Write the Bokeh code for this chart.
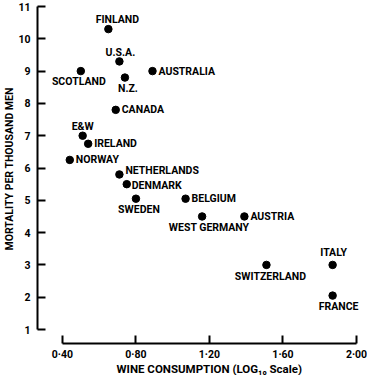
from bokeh.plotting import figure
from bokeh.models import ColumnDataSource, FixedTicker, Range1d, Title
from bokeh.core.properties import value
from bokeh.embed import file_html
from bokeh.resources import INLINE

# ---- data ----
countries = ["FINLAND", "U.S.A.", "SCOTLAND", "AUSTRALIA", "N.Z.", "CANADA",
             "E&W", "IRELAND", "NORWAY", "NETHERLANDS", "DENMARK", "SWEDEN",
             "BELGIUM", "WEST GERMANY", "AUSTRIA", "SWITZERLAND", "ITALY", "FRANCE"]
wine_log = [0.65, 0.71, 0.50, 0.89, 0.74, 0.69,
            0.51, 0.54, 0.44, 0.71, 0.75, 0.80,
            1.07, 1.16, 1.39, 1.51, 1.87, 1.87]
mortality = [10.3, 9.3, 9.0, 9.0, 8.8, 7.8,
             7.0, 6.75, 6.25, 5.8, 5.5, 5.05,
             5.05, 4.5, 4.5, 3.0, 3.0, 2.05]

x_ticks = [0.40, 0.80, 1.20, 1.60, 2.00]
x_tick_labels = ["0\u00b740", "0\u00b780", "1\u00b720", "1\u00b760", "2\u00b700"]
y_ticks = [1, 2, 3, 4, 5, 6, 7, 8, 9, 10, 11]
x_title = "WINE CONSUMPTION  (LOG\u2081\u2080 Scale)"
y_title = "MORTALITY PER THOUSAND MEN"

# ---- label placement (style: anchor, dx px, dy px; dy positive = down) ----
placement = [("c", 9, -10), ("c", 1, -9), ("c", -2, 10), ("l", 6, 0), ("c", 3, 11), ("l", 6, 0),
             ("c", 0, -9), ("l", 6, 0), ("l", 6, 0), ("l", 6, -4), ("l", 5, 1), ("c", 3, 11),
             ("l", 6, 0), ("c", 7, 11), ("l", 6, 0), ("c", 4, 12), ("c", 1, -12), ("c", 6, 11)]

FONT = "Roboto"

p = figure(width=367, height=375, output_backend="svg", toolbar_location=None,
           x_range=Range1d(0.2644, 2.0217), y_range=Range1d(0.567, 11.031),
           min_border_left=36, min_border_right=7, min_border_top=5, min_border_bottom=32)
p.outline_line_color = None
p.grid.visible = False
p.background_fill_color = "white"
p.border_fill_color = "white"

src = ColumnDataSource(dict(
    x=wine_log, y=mortality, name=countries,
    dx=[pl[1] for pl in placement], dy=[pl[2] for pl in placement],
    align=["left" if pl[0] == "l" else "center" for pl in placement],
))
p.scatter("x", "y", source=src, size=7.5, color="black")
p.text("x", "y", text="name", source=src, x_offset="dx", y_offset="dy",
       text_align="align", text_baseline="middle", text_font=value(FONT),
       text_font_style="bold", text_font_size="10.5px", text_color="black")

for ax in (p.xaxis[0], p.yaxis[0]):
    ax.axis_line_width = 2
    ax.axis_line_color = "black"
    ax.major_tick_line_width = 2
    ax.major_tick_line_color = "black"
    ax.minor_tick_line_color = None
    ax.minor_tick_out = 0
    ax.minor_tick_in = 0
    ax.major_tick_out = 0
    ax.major_label_text_font = FONT
    ax.major_label_text_font_style = "bold"
    ax.major_label_text_font_size = "10.5px"
    ax.major_label_text_color = "black"

xa = p.xaxis[0]
xa.ticker = FixedTicker(ticks=x_ticks)
xa.major_label_overrides = {t: l for t, l in zip(x_ticks, x_tick_labels)}
xa.bounds = (x_ticks[0], x_ticks[-1])
xa.major_tick_in = 8
xa.major_label_standoff = 4

ya = p.yaxis[0]
ya.ticker = FixedTicker(ticks=y_ticks)
ya.bounds = (y_ticks[0], y_ticks[-1])
ya.major_tick_in = 8
ya.major_label_standoff = 7

p.add_layout(Title(text=x_title, align="left", offset=79, standoff=-5,
                   vertical_align="middle",
                   text_font=FONT, text_font_style="bold", text_font_size="11.5px",
                   text_color="black"), "below")
p.add_layout(Title(text=y_title, align="left", offset=93, standoff=0,
                   text_font=FONT, text_font_style="bold", text_font_size="10.5px",
                   text_color="black"), "left")

open("out.html", "w").write(file_html(p, INLINE))
